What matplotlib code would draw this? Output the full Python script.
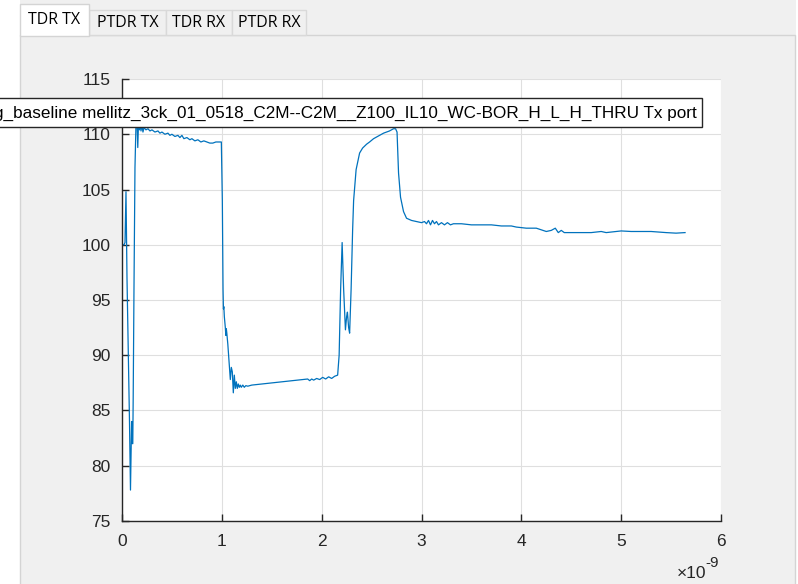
import matplotlib.pyplot as plt
from matplotlib.patches import Rectangle
from matplotlib.ticker import FuncFormatter, MultipleLocator

plt.rcParams["font.family"] = ["Liberation Sans", "DejaVu Sans"]

# TDR impedance trace (time in ns, impedance in ohm)
time_ns = [
    0.000, 0.020, 0.030, 0.040, 0.050, 0.060, 0.075, 0.085, 0.092, 0.096,
    0.100, 0.104, 0.108, 0.112, 0.120, 0.130, 0.140, 0.150, 0.158, 0.165,
    0.175, 0.183, 0.190, 0.200, 0.210, 0.220, 0.240, 0.260, 0.280, 0.300,
    0.330, 0.360, 0.380, 0.400, 0.430, 0.460, 0.480, 0.500, 0.530, 0.560,
    0.580, 0.600, 0.620, 0.650, 0.680, 0.700, 0.730, 0.760, 0.790, 0.820,
    0.850, 0.880, 0.910, 0.940, 0.970, 0.995, 1.005, 1.012, 1.016, 1.020,
    1.025, 1.035, 1.040, 1.045, 1.050, 1.060, 1.075, 1.085, 1.095, 1.105,
    1.115, 1.125, 1.135, 1.145, 1.155, 1.165, 1.175, 1.185, 1.195, 1.210,
    1.225, 1.240, 1.260, 1.300, 1.400, 1.500, 1.600, 1.700, 1.800, 1.860,
    1.880, 1.900, 1.920, 1.950, 1.980, 2.010, 2.040, 2.070, 2.100, 2.130,
    2.160, 2.175, 2.190, 2.205, 2.220, 2.238, 2.250, 2.258, 2.270, 2.280,
    2.295, 2.310, 2.320, 2.345, 2.380, 2.410, 2.450, 2.480, 2.520, 2.580,
    2.620, 2.680, 2.720, 2.740, 2.755, 2.770, 2.790, 2.820, 2.850, 2.900,
    2.950, 3.000, 3.030, 3.050, 3.070, 3.090, 3.110, 3.130, 3.150, 3.170,
    3.200, 3.230, 3.260, 3.290, 3.320, 3.400, 3.500, 3.600, 3.700, 3.800,
    3.900, 3.950, 4.050, 4.150, 4.250, 4.300, 4.340, 4.370, 4.400, 4.430,
    4.500, 4.600, 4.700, 4.800, 4.850, 5.000, 5.100, 5.300, 5.450, 5.550,
    5.640,
]
impedance = [
    100.0, 100.0, 100.2, 104.8, 97.0, 92.0, 84.0, 77.8, 82.0, 84.0,
    84.0, 82.0, 82.0, 86.0, 96.0, 107.0, 110.9, 111.3, 108.8, 111.0,
    110.4, 111.2, 110.3, 110.8, 110.2, 110.6, 110.4, 110.5, 110.3, 110.4,
    110.2, 110.3, 110.1, 110.2, 110.0, 110.1, 109.9, 110.0, 109.8, 109.9,
    109.7, 109.9, 109.6, 109.7, 109.5, 109.6, 109.4, 109.5, 109.3, 109.4,
    109.3, 109.2, 109.2, 109.3, 109.3, 109.3, 104.0, 96.0, 94.2, 94.4,
    93.5, 92.5, 91.8, 92.4, 92.0, 91.0, 89.0, 87.8, 88.9, 88.5,
    86.6, 88.2, 87.0, 87.6, 87.0, 87.4, 87.1, 87.3, 87.1, 87.3,
    87.1, 87.25, 87.2, 87.3, 87.4, 87.5, 87.6, 87.7, 87.8, 87.85,
    87.7, 87.85, 87.75, 87.9, 87.8, 88.0, 87.85, 88.05, 87.9, 88.1,
    88.2, 90.0, 96.0, 100.2, 96.0, 92.3, 93.5, 93.9, 92.5, 92.0,
    96.0, 101.3, 104.0, 106.8, 108.3, 108.75, 109.1, 109.3, 109.6, 109.9,
    110.1, 110.3, 110.5, 110.5, 110.2, 106.5, 104.3, 103.0, 102.4, 102.2,
    102.1, 102.0, 102.1, 101.9, 102.2, 101.8, 102.2, 101.9, 102.1, 101.8,
    102.0, 101.8, 102.0, 101.8, 101.9, 101.9, 101.8, 101.8, 101.8, 101.7,
    101.7, 101.6, 101.5, 101.5, 101.2, 101.3, 101.5, 101.1, 101.3, 101.1,
    101.1, 101.1, 101.1, 101.2, 101.1, 101.25, 101.2, 101.2, 101.1, 101.05,
    101.1,
]
time_s = [t * 1e-9 for t in time_ns]

tab_names = ["TDR TX", "PTDR TX", "TDR RX", "PTDR RX"]
trace_label = "g_baseline mellitz_3ck_01_0518_C2M--C2M__Z100_IL10_WC-BOR_H_L_H_THRU Tx port"

W, H = 798, 584
fig = plt.figure(figsize=(W / 100, H / 100), dpi=100)
fig.patch.set_facecolor("white")


def fx(px):
    return px / W


def fy(py):
    return 1 - py / H


def fig_rect(x0, y0, x1, y1, **kw):
    r = Rectangle((fx(x0), fy(y1)), fx(x1) - fx(x0), fy(y0) - fy(y1),
                  transform=fig.transFigure, **kw)
    fig.patches.append(r)
    return r


# tab group panel
fig_rect(20, 0, 796, H + 2, facecolor="#f0f0f0", edgecolor="none", zorder=-2)
fig_rect(20, 35, 795, H + 5, facecolor="#f0f0f0", edgecolor="#d4d4d4", lw=1, zorder=-1)

tab_edges = [20, 89, 166, 232, 306]
for i, name in enumerate(tab_names):
    x0, x1 = tab_edges[i], tab_edges[i + 1]
    if i == 0:
        fig_rect(x0, 4, x1, 36, facecolor="white", edgecolor="#d4d4d4", lw=1, zorder=3)
        ty = 20.5
    else:
        fig_rect(x0, 10, x1, 35, facecolor="#f0f0f0", edgecolor="#d9d9d9", lw=1, zorder=2)
        ty = 23
    fig.text(fx((x0 + x1) / 2), fy(ty), name, ha="center", va="center",
             fontsize=11.5, family="Open Sans", color="black", zorder=4)

ax = fig.add_axes([fx(122), fy(521), fx(721) - fx(122), fy(79) - fy(521)])
ax.set_zorder(1)
ax.set_facecolor("white")
ax.plot(time_s, impedance, color="#0072BD", lw=0.9)

ax.set_xlim(0, 6e-9)
ax.set_ylim(75, 115)
ax.xaxis.set_major_locator(MultipleLocator(1e-9))
ax.yaxis.set_major_locator(MultipleLocator(5))
ax.xaxis.set_major_formatter(FuncFormatter(lambda v, p: f"{v / 1e-9:g}"))
ax.grid(True, color="#dfdfdf", lw=0.8)
ax.set_axisbelow(True)
for side in ["top", "right"]:
    ax.spines[side].set_visible(False)
for side in ["left", "bottom"]:
    ax.spines[side].set_color("#262626")
    ax.spines[side].set_linewidth(1.0)
ax.tick_params(direction="in", length=5, width=1, color="#262626",
               labelcolor="#262626", labelsize=12.5)
ax.tick_params(axis="x", pad=9)
ax.tick_params(axis="y", pad=8)

# x-axis exponent
fig.text(fx(706), fy(573), "×10", ha="right", va="center", fontsize=12.5,
         color="#262626")
fig.text(fx(705), fy(563), "-9", ha="left", va="center", fontsize=11,
         color="#262626")

# legend box, wider than the axes so its left end runs off the figure
fig_rect(-20, 98, 702, 127, facecolor="white", edgecolor="#262626", lw=1, zorder=5)
fig.text(fx(697), fy(113), trace_label, ha="right", va="center", fontsize=12.3,
         color="black", zorder=6)

fig.savefig("out.png", dpi=100, facecolor=fig.get_facecolor())
